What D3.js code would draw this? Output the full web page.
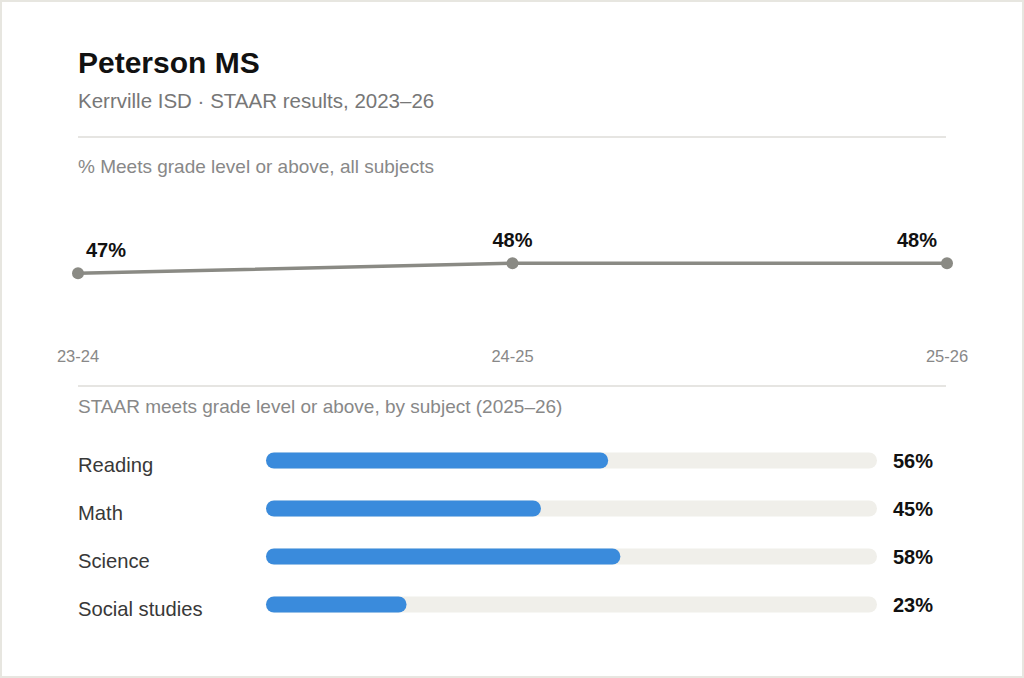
<!DOCTYPE html>
<html>
<head>
<meta charset="utf-8">
<script src="https://cdn.jsdelivr.net/npm/d3@7"></script>
<style>
  html, body { margin: 0; padding: 0; background: #e7e6e0; }
  svg { display: block; font-family: "Liberation Sans", Arial, Helvetica, sans-serif; }
</style>
</head>
<body>
<div id="chart"></div>
<script>
// School-level STAAR summary
const title = "Peterson MS";
const subtitle = "Kerrville ISD · STAAR results, 2023–26";
const trendHeading = "% Meets grade level or above, all subjects";
const subjectHeading = "STAAR meets grade level or above, by subject (2025–26)";

const years = ["23-24", "24-25", "25-26"];
const meetsAll = [47, 48, 48];

const subjects = ["Reading", "Math", "Science", "Social studies"];
const subjectMeets = [56, 45, 58, 23];

const width = 1024;
const height = 678;
const left = 78;
const right = 947;

const svg = d3
  .select("#chart")
  .append("svg")
  .attr("width", width)
  .attr("height", height);

// card
svg
  .append("rect")
  .attr("x", 2)
  .attr("y", 2)
  .attr("width", width - 4)
  .attr("height", height - 4)
  .attr("fill", "#fff");

// header
svg
  .append("text")
  .attr("x", left)
  .attr("y", 73)
  .attr("font-size", 30)
  .attr("font-weight", "bold")
  .attr("fill", "#111")
  .text(title);

svg
  .append("text")
  .attr("x", left)
  .attr("y", 108)
  .attr("font-size", 20.5)
  .attr("fill", "#777")
  .text(subtitle);

const rule = (y) =>
  svg
    .append("line")
    .attr("x1", left)
    .attr("x2", right - 1)
    .attr("y1", y)
    .attr("y2", y)
    .attr("stroke", "#deddd8")
    .attr("stroke-width", 1.5);

rule(137);

svg
  .append("text")
  .attr("x", left)
  .attr("y", 172.5)
  .attr("font-size", 19)
  .attr("fill", "#888")
  .text(trendHeading);

// trend line
const x = d3.scalePoint().domain(years).range([left, right]);
const y = d3.scaleLinear().domain([42, 54]).range([323.3, 203.3]);

const trend = years.map((yr, i) => ({ year: yr, value: meetsAll[i] }));

svg
  .append("path")
  .datum(trend)
  .attr("fill", "none")
  .attr("stroke", "#8a8a84")
  .attr("stroke-width", 3.5)
  .attr(
    "d",
    d3
      .line()
      .x((d) => x(d.year))
      .y((d) => y(d.value)),
  );

svg
  .selectAll("circle.pt")
  .data(trend)
  .enter()
  .append("circle")
  .attr("class", "pt")
  .attr("cx", (d) => x(d.year))
  .attr("cy", (d) => y(d.value))
  .attr("r", 6)
  .attr("fill", "#8a8a84");

// value labels: first one hangs right, last one hangs left
const last = trend.length - 1;
svg
  .selectAll("text.val")
  .data(trend)
  .enter()
  .append("text")
  .attr("class", "val")
  .attr("x", (d, i) => x(d.year) + (i === 0 ? 8 : i === last ? -10 : 0))
  .attr("y", (d) => y(d.value) - 16.5)
  .attr("text-anchor", (d, i) => (i === 0 ? "start" : i === last ? "end" : "middle"))
  .attr("font-size", 20)
  .attr("font-weight", "bold")
  .attr("fill", "#111")
  .text((d) => `${d.value}%`);

// x axis labels
svg
  .selectAll("text.year")
  .data(years)
  .enter()
  .append("text")
  .attr("class", "year")
  .attr("x", (d) => x(d))
  .attr("y", 361.5)
  .attr("text-anchor", "middle")
  .attr("font-size", 16.5)
  .attr("fill", "#888")
  .text((d) => d);

rule(386);

svg
  .append("text")
  .attr("x", left)
  .attr("y", 413)
  .attr("font-size", 19)
  .attr("fill", "#888")
  .text(subjectHeading);

// subject bars
const barX = d3.scaleLinear().domain([0, 100]).range([266, 877]);
const rowY = d3
  .scalePoint()
  .domain(subjects)
  .range([460.5, 604.5]);
const barH = 16;

const rows = svg
  .selectAll("g.row")
  .data(subjects.map((s, i) => ({ name: s, value: subjectMeets[i] })))
  .enter()
  .append("g")
  .attr("class", "row")
  .attr("transform", (d) => `translate(0, ${rowY(d.name)})`);

rows
  .append("text")
  .attr("x", left)
  .attr("y", 11.5)
  .attr("font-size", 20.2)
  .attr("fill", "#383838")
  .text((d) => d.name);

rows
  .append("rect")
  .attr("x", barX(0))
  .attr("y", -barH / 2)
  .attr("width", barX(100) - barX(0))
  .attr("height", barH)
  .attr("rx", 8)
  .attr("fill", "#f0efea");

rows
  .append("rect")
  .attr("x", barX(0))
  .attr("y", -barH / 2)
  .attr("width", (d) => barX(d.value) - barX(0))
  .attr("height", barH)
  .attr("rx", 8)
  .attr("fill", "#3a8bdc");

rows
  .append("text")
  .attr("x", 893)
  .attr("y", 7.5)
  .attr("font-size", 20)
  .attr("font-weight", "bold")
  .attr("fill", "#111")
  .text((d) => `${d.value}%`);
</script>
</body>
</html>
